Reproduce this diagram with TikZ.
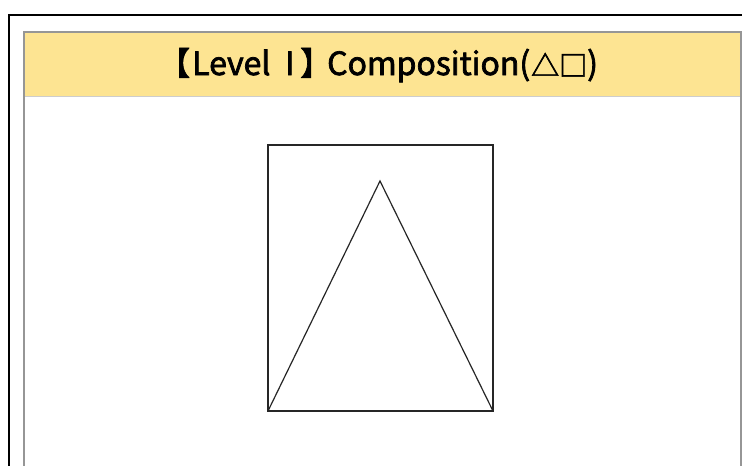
\documentclass[tikz,border=0pt]{standalone}
\usepackage{fontspec}
\newfontfamily\jpfont[FakeBold=2.2]{Noto Sans CJK JP}
\definecolor{hdr}{RGB}{253,228,146}
\definecolor{frm}{RGB}{150,150,150}
\definecolor{hline}{RGB}{205,205,205}
\begin{document}
\begin{tikzpicture}[x=1pt,y=-1pt,
  outerframe/.style={draw=black,line width=1.6pt},
  innerframe/.style={draw=frm,line width=1.3pt},
  figline/.style={draw=black!85,line width=1.2pt,line join=miter},
  ttl/.style={font=\jpfont\fontsize{32}{36}\selectfont, anchor=base west, inner sep=0pt},
  ttlsym/.style={font=\jpfont\fontsize{28}{32}\selectfont, anchor=base west, inner sep=0pt}]
\useasboundingbox (0,0) rectangle (742,466);
\fill[white] (0,0) rectangle (742,466);
% outer black frame
\draw[outerframe] (9,470) -- (9,15) -- (746,15);
% inner frame
\fill[hdr] (24,32) rectangle (741,96);
\draw[hline, line width=1pt] (24,96) -- (741,96);
\draw[innerframe] (24,470) -- (24,32) -- (741,32) -- (741,470);
% title pieces
\node[ttl] (t1) at (158,75) {【};
\node[ttl] (t2) at (192,75) {Level};
\node[ttl] (t3) at (285,75) {I};
\node[ttl] (t4) at (300,75) {】};
\node[ttl] (t5) at (327,75) {Composition(};
\node[ttlsym] (t6) at (531,76) {△□};
\node[ttl] (t7) at (587,75) {)};
% rectangle and triangle
\coordinate (A) at (268,411);
\coordinate (B) at (493,411);
\coordinate (C) at (380,181);
\draw[figline] (268,145) rectangle (493,411);
\draw[figline] (A) -- (C) -- (B);
\end{tikzpicture}
\end{document}
